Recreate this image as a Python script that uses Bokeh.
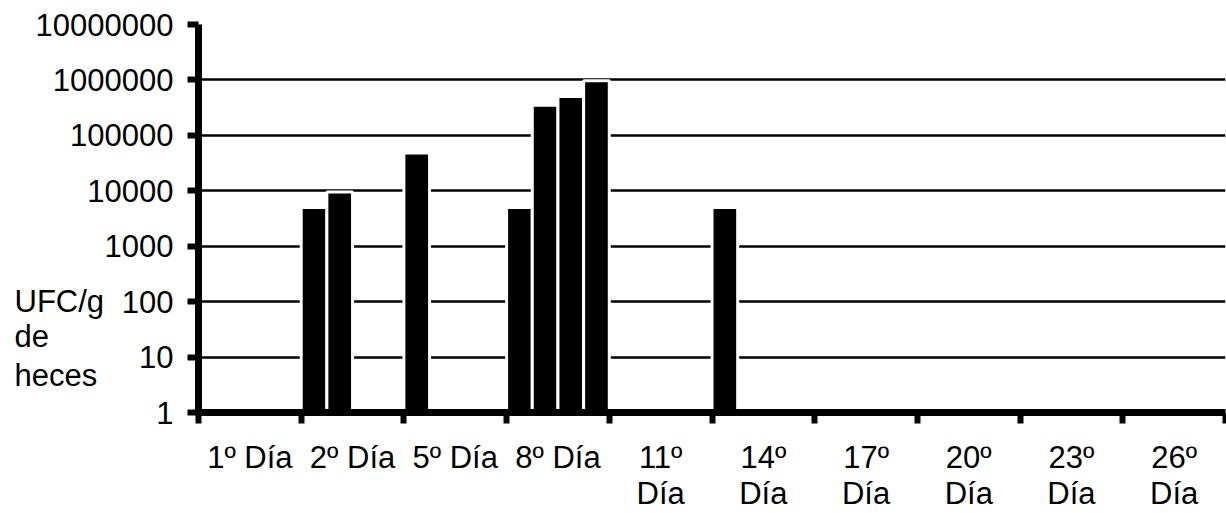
from bokeh.plotting import figure
from bokeh.models import (Range1d, FixedTicker, ColumnDataSource,
                          BasicTickFormatter, LinearScale)
from bokeh.core.properties import value
from bokeh.transform import dodge
from bokeh.embed import file_html
from bokeh.resources import INLINE

# Sampling days and the four faecal counts (UFC/g) recorded on each day;
# 0 means nothing was recovered on that day.
dias = ["1º Día", "2º Día", "5º Día", "8º Día", "11º\nDía", "14º\nDía",
        "17º\nDía", "20º\nDía", "23º\nDía", "26º\nDía"]
muestra_1 = [0, 5000, 48000, 5000, 0, 5000, 0, 0, 0, 0]
muestra_2 = [0, 9500, 0, 350000, 0, 0, 0, 0, 0, 0]
muestra_3 = [0, 0, 0, 500000, 0, 0, 0, 0, 0, 0]
muestra_4 = [0, 0, 0, 970000, 0, 0, 0, 0, 0, 0]
y_ticks = [1, 10, 100, 1000, 10000, 100000, 1000000, 10000000]
titulo_y = ["UFC/g", "de", "heces"]

FONT = "Liberation Sans"
FS = "31px"
W, H = 1226, 513
LEFT, RIGHT, TOP, BOTTOM = 198, 1, 24, 101
n = len(dias)
centros = [i + 0.5 for i in range(n)]

p = figure(width=W, height=H, y_axis_type="log",
           x_range=Range1d(0, n), y_range=Range1d(1, 1e7),
           output_backend="svg", toolbar_location=None,
           min_border_left=LEFT, min_border_right=RIGHT,
           min_border_top=TOP, min_border_bottom=BOTTOM)
p.outline_line_color = None
p.background_fill_color = "white"
p.border_fill_color = "white"

# pixel-based linear ranges used to place the free text around the frame
p.extra_x_ranges = {"px": Range1d(0, W - LEFT - RIGHT)}
p.extra_x_scales = {"px": LinearScale()}
p.extra_y_ranges = {"px": Range1d(0, H - TOP - BOTTOM)}
p.extra_y_scales = {"px": LinearScale()}

# grid: horizontal lines at each decade only
p.xgrid.grid_line_color = None
p.ygrid.ticker = FixedTicker(ticks=y_ticks)
p.ygrid.grid_line_color = "black"
p.ygrid.grid_line_width = 2.5

# bars: four per day, side by side, white edges break the grid lines
series = [muestra_1, muestra_2, muestra_3, muestra_4]
for k, vals in enumerate(series):
    xs = [c for c, v in zip(centros, vals) if v > 0]
    tops = [v for v in vals if v > 0]
    src = ColumnDataSource(dict(x=xs, top=tops))
    p.vbar(x=dodge("x", (k - 1.5) * 0.25, range=p.x_range), width=0.25,
           bottom=1, top="top", source=src,
           fill_color="black", line_color="white", line_width=3)

# y axis
ya = p.yaxis[0]
ya.ticker = FixedTicker(ticks=y_ticks, minor_ticks=[])
ya.formatter = BasicTickFormatter(use_scientific=False)
ya.axis_line_width = 7
ya.axis_line_color = "black"
ya.major_tick_line_width = 6
ya.major_tick_out = 11
ya.major_tick_in = 0
ya.minor_tick_line_color = None
ya.major_label_standoff = 14
ya.major_label_text_font = FONT
ya.major_label_text_font_size = FS
ya.major_label_text_color = "black"

# x axis: only tick marks between days; the day names are drawn as text
xa = p.xaxis[0]
xa.ticker = FixedTicker(ticks=[], minor_ticks=list(range(n + 1)))
xa.major_label_standoff = 0
xa.axis_line_width = 7
xa.axis_line_color = "black"
xa.major_tick_line_color = None
xa.major_tick_out = 0
xa.major_tick_in = 0
xa.minor_tick_line_width = 6
xa.minor_tick_line_color = "black"
xa.minor_tick_out = 11
xa.minor_tick_in = 0

# day names, one or two lines under each day
lineas = [d.split("\n") for d in dias]
fila_1 = [l[0] for l in lineas]
x2 = [c for c, l in zip(centros, lineas) if len(l) > 1]
fila_2 = [l[1] for l in lineas if len(l) > 1]
txt = dict(text_font=value(FONT), text_font_size=FS, text_color="black",
           text_align="center", text_baseline="alphabetic", level="overlay")
p.text(x=centros, y=[-45] * n, text=fila_1, y_range_name="px", **txt)
p.text(x=x2, y=[-81] * len(x2), text=fila_2, y_range_name="px", **txt)

# horizontal y title, one word per line, left of the tick labels
txt["text_align"] = "left"
p.text(x=[-184] * 3, y=[111, 76, 37], text=titulo_y,
       x_range_name="px", y_range_name="px", **txt)

open("out.html", "w").write(file_html(p, INLINE))
